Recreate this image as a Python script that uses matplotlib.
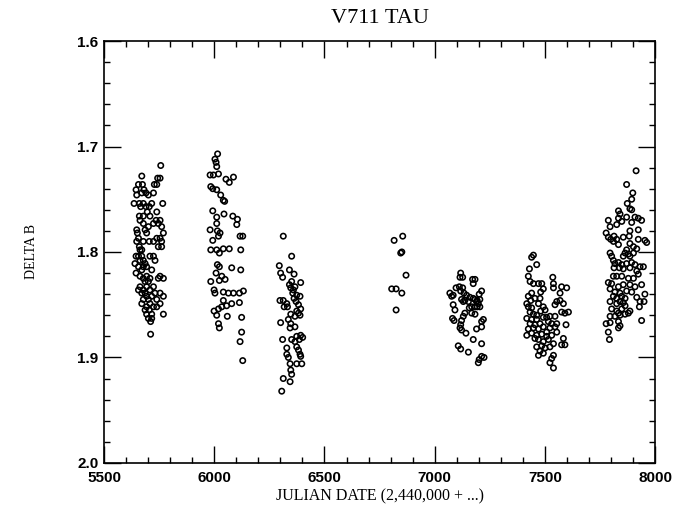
import matplotlib
matplotlib.use("Agg")
import matplotlib.pyplot as plt
from matplotlib.ticker import MultipleLocator

# V711 Tau differential B photometry, one pair of lists per observing season
jd_1 = [5757, 5671, 5743, 5754, 5656, 5674, 5728, 5739, 5645, 5681,
        5671, 5690, 5724, 5648, 5701, 5636, 5660, 5678, 5716, 5766,
        5666, 5690, 5705, 5696, 5739, 5660, 5678, 5708, 5663, 5736,
        5754, 5678, 5724, 5746, 5701, 5761, 5648, 5686, 5651, 5693,
        5769, 5656, 5739, 5754, 5648, 5678, 5705, 5724, 5761, 5660,
        5746, 5761, 5663, 5671, 5645, 5656, 5671, 5708, 5724, 5663,
        5678, 5731, 5640, 5686, 5656, 5678, 5693, 5671, 5716, 5645,
        5663, 5693, 5754, 5678, 5708, 5746, 5769, 5686, 5701, 5663,
        5693, 5724, 5656, 5678, 5708, 5671, 5686, 5731, 5754, 5693,
        5716, 5769, 5678, 5701, 5739, 5671, 5708, 5754, 5693, 5724,
        5739, 5686, 5705, 5693, 5716, 5769, 5701, 5716, 5711, 5711]
db_1 = [1.718, 1.728, 1.730, 1.730, 1.736, 1.736, 1.736, 1.736, 1.741, 1.741,
        1.744, 1.744, 1.744, 1.746, 1.746, 1.754, 1.754, 1.754, 1.754, 1.754,
        1.757, 1.757, 1.757, 1.762, 1.762, 1.766, 1.766, 1.766, 1.770, 1.770,
        1.770, 1.773, 1.773, 1.773, 1.776, 1.776, 1.779, 1.779, 1.782, 1.782,
        1.782, 1.787, 1.787, 1.787, 1.790, 1.790, 1.790, 1.790, 1.790, 1.795,
        1.795, 1.795, 1.798, 1.798, 1.804, 1.804, 1.804, 1.804, 1.804, 1.808,
        1.808, 1.808, 1.811, 1.811, 1.814, 1.814, 1.814, 1.817, 1.817, 1.820,
        1.823, 1.823, 1.823, 1.825, 1.825, 1.825, 1.825, 1.828, 1.828, 1.833,
        1.833, 1.833, 1.836, 1.836, 1.836, 1.839, 1.839, 1.839, 1.839, 1.842,
        1.842, 1.842, 1.845, 1.845, 1.845, 1.849, 1.849, 1.849, 1.852, 1.852,
        1.852, 1.855, 1.855, 1.859, 1.859, 1.859, 1.863, 1.863, 1.866, 1.878]

jd_2 = [6015, 6003, 6008, 6011, 5981, 5996, 6019, 6053, 6068, 6087,
        5984, 5993, 6011, 6029, 6041, 6047, 5993, 6044, 6084, 6105,
        6011, 6011, 6102, 5981, 6014, 6026, 6117, 6129, 5993, 6019,
        5984, 6011, 6023, 6041, 6068, 6120, 6014, 6023, 6079, 6120,
        6008, 6034, 5984, 6023, 6049, 5999, 6003, 6041, 6064, 6087,
        6132, 6114, 6041, 6114, 5999, 6019, 6034, 6056, 6079, 6011,
        6059, 6124, 6019, 6023, 6124, 6117, 6129]
db_2 = [1.707, 1.712, 1.715, 1.719, 1.727, 1.727, 1.726, 1.731, 1.734, 1.729,
        1.738, 1.740, 1.741, 1.746, 1.751, 1.752, 1.761, 1.764, 1.766, 1.769,
        1.767, 1.773, 1.774, 1.779, 1.780, 1.782, 1.785, 1.785, 1.789, 1.785,
        1.798, 1.798, 1.801, 1.797, 1.797, 1.798, 1.812, 1.814, 1.815, 1.817,
        1.820, 1.823, 1.828, 1.827, 1.826, 1.836, 1.839, 1.838, 1.839, 1.839,
        1.837, 1.839, 1.846, 1.848, 1.856, 1.854, 1.852, 1.851, 1.849, 1.860,
        1.861, 1.862, 1.868, 1.872, 1.876, 1.885, 1.903]

jd_3 = [6313, 6351, 6295, 6341, 6362, 6301, 6310, 6392, 6351, 6341,
        6347, 6359, 6366, 6356, 6374, 6389, 6362, 6298, 6313, 6329,
        6371, 6382, 6317, 6332, 6392, 6374, 6382, 6347, 6389, 6366,
        6301, 6336, 6347, 6344, 6366, 6374, 6392, 6401, 6386, 6310,
        6351, 6366, 6329, 6374, 6382, 6329, 6389, 6336, 6392, 6344,
        6374, 6397, 6347, 6351, 6313, 6344, 6306]
db_3 = [1.785, 1.804, 1.813, 1.817, 1.821, 1.820, 1.824, 1.829, 1.828, 1.831,
        1.834, 1.836, 1.833, 1.839, 1.841, 1.842, 1.844, 1.846, 1.846, 1.849,
        1.847, 1.850, 1.852, 1.852, 1.854, 1.856, 1.858, 1.859, 1.860, 1.861,
        1.867, 1.864, 1.868, 1.872, 1.871, 1.880, 1.879, 1.881, 1.883, 1.883,
        1.883, 1.885, 1.891, 1.890, 1.893, 1.897, 1.897, 1.900, 1.899, 1.906,
        1.906, 1.906, 1.912, 1.916, 1.920, 1.923, 1.932]

jd_4 = [6816, 6855, 6851, 6846, 6870, 6805, 6825, 6851, 6825]
db_4 = [1.789, 1.785, 1.800, 1.801, 1.822, 1.835, 1.835, 1.839, 1.855]

jd_5 = [7118, 7115, 7127, 7172, 7183, 7175, 7097, 7112, 7127, 7118,
        7133, 7213, 7202, 7069, 7084, 7077, 7145, 7160, 7175, 7183,
        7193, 7205, 7122, 7130, 7137, 7153, 7190, 7198, 7084, 7092,
        7168, 7183, 7193, 7205, 7157, 7137, 7168, 7183, 7130, 7081,
        7088, 7122, 7221, 7213, 7118, 7115, 7122, 7190, 7213, 7142,
        7175, 7213, 7107, 7118, 7153, 7213, 7202, 7224, 7198]
db_5 = [1.820, 1.824, 1.824, 1.826, 1.826, 1.830, 1.834, 1.833, 1.834, 1.837,
        1.839, 1.837, 1.840, 1.839, 1.841, 1.842, 1.841, 1.843, 1.844, 1.845,
        1.846, 1.845, 1.845, 1.847, 1.846, 1.847, 1.847, 1.849, 1.850, 1.855,
        1.852, 1.852, 1.852, 1.852, 1.853, 1.858, 1.858, 1.859, 1.861, 1.863,
        1.865, 1.865, 1.864, 1.866, 1.869, 1.872, 1.874, 1.873, 1.871, 1.877,
        1.883, 1.887, 1.889, 1.892, 1.895, 1.899, 1.902, 1.900, 1.905]

jd_6 = [7448, 7440, 7463, 7430, 7425, 7536, 7433, 7448, 7471, 7486,
        7493, 7481, 7539, 7539, 7576, 7599, 7569, 7440, 7425, 7436,
        7455, 7478, 7471, 7554, 7569, 7584, 7546, 7418, 7425, 7440,
        7493, 7501, 7481, 7433, 7448, 7463, 7576, 7591, 7607, 7418,
        7440, 7463, 7493, 7508, 7523, 7546, 7433, 7455, 7478, 7516,
        7531, 7554, 7596, 7425, 7448, 7471, 7493, 7523, 7546, 7508,
        7418, 7440, 7463, 7486, 7508, 7531, 7554, 7455, 7471, 7493,
        7516, 7539, 7584, 7463, 7486, 7501, 7523, 7576, 7591, 7478,
        7493, 7471, 7539, 7531, 7523, 7539]
db_6 = [1.803, 1.805, 1.812, 1.816, 1.823, 1.824, 1.828, 1.830, 1.830, 1.830,
        1.835, 1.838, 1.830, 1.834, 1.833, 1.834, 1.839, 1.839, 1.842, 1.846,
        1.844, 1.844, 1.849, 1.847, 1.846, 1.849, 1.850, 1.849, 1.852, 1.853,
        1.852, 1.855, 1.856, 1.857, 1.859, 1.860, 1.857, 1.858, 1.857, 1.863,
        1.864, 1.864, 1.862, 1.862, 1.861, 1.861, 1.868, 1.869, 1.868, 1.866,
        1.868, 1.868, 1.869, 1.873, 1.872, 1.873, 1.871, 1.872, 1.871, 1.876,
        1.879, 1.877, 1.879, 1.878, 1.880, 1.879, 1.876, 1.882, 1.883, 1.885,
        1.883, 1.887, 1.882, 1.890, 1.889, 1.891, 1.890, 1.888, 1.888, 1.894,
        1.896, 1.898, 1.898, 1.901, 1.905, 1.910]

jd_7 = [7914, 7871, 7899, 7894, 7874, 7886, 7894, 7834, 7841, 7788,
        7834, 7871, 7909, 7924, 7939, 7796, 7826, 7849, 7894, 7924,
        7886, 7778, 7788, 7814, 7799, 7826, 7856, 7883, 7924, 7954,
        7962, 7811, 7834, 7886, 7902, 7871, 7917, 7796, 7803, 7864,
        7879, 7902, 7856, 7886, 7811, 7818, 7834, 7849, 7871, 7894,
        7909, 7932, 7947, 7814, 7838, 7856, 7886, 7917, 7924, 7811,
        7826, 7849, 7879, 7902, 7788, 7803, 7834, 7856, 7886, 7909,
        7939, 7796, 7818, 7841, 7871, 7894, 7811, 7826, 7849, 7864,
        7917, 7954, 7796, 7826, 7841, 7856, 7864, 7932, 7950, 7929,
        7803, 7826, 7849, 7834, 7864, 7886, 7796, 7818, 7841, 7879,
        7939, 7778, 7796, 7834, 7841, 7834, 7788, 7793]
db_7 = [1.723, 1.736, 1.744, 1.750, 1.754, 1.759, 1.760, 1.761, 1.764, 1.770,
        1.768, 1.767, 1.767, 1.768, 1.770, 1.776, 1.774, 1.771, 1.772, 1.779,
        1.780, 1.782, 1.786, 1.785, 1.788, 1.788, 1.786, 1.785, 1.788, 1.789,
        1.791, 1.790, 1.793, 1.792, 1.795, 1.798, 1.797, 1.801, 1.804, 1.801,
        1.802, 1.801, 1.804, 1.804, 1.808, 1.811, 1.810, 1.812, 1.811, 1.810,
        1.812, 1.814, 1.814, 1.815, 1.815, 1.816, 1.815, 1.818, 1.821, 1.823,
        1.823, 1.823, 1.825, 1.825, 1.829, 1.830, 1.833, 1.831, 1.831, 1.833,
        1.831, 1.835, 1.838, 1.839, 1.837, 1.838, 1.842, 1.844, 1.842, 1.844,
        1.843, 1.840, 1.847, 1.849, 1.847, 1.848, 1.851, 1.847, 1.847, 1.852,
        1.854, 1.856, 1.854, 1.858, 1.859, 1.856, 1.861, 1.861, 1.860, 1.858,
        1.865, 1.868, 1.867, 1.866, 1.870, 1.872, 1.876, 1.883]

seasons = [(jd_1, db_1), (jd_2, db_2), (jd_3, db_3), (jd_4, db_4),
           (jd_5, db_5), (jd_6, db_6), (jd_7, db_7)]

fig = plt.figure(figsize=(6.76, 5.07), dpi=100)
ax = fig.add_axes([0.154, 0.087, 0.815, 0.832])

for jd, db in seasons:
    ax.scatter(jd, db, s=15, facecolors="none", edgecolors="black",
               linewidths=1.15, zorder=3)

ax.set_xlim(5500, 8000)
ax.set_ylim(2.0, 1.6)  # brighter at the top

ax.xaxis.set_major_locator(MultipleLocator(500))
ax.xaxis.set_minor_locator(MultipleLocator(100))
ax.yaxis.set_major_locator(MultipleLocator(0.1))
ax.yaxis.set_minor_locator(MultipleLocator(0.02))
ax.yaxis.set_major_formatter(plt.FormatStrFormatter("%.1f"))

ax.tick_params(which="both", direction="in", top=True, right=True, width=1.0)
ax.tick_params(which="major", length=12)
ax.tick_params(which="minor", length=4)
ax.tick_params(axis="x", which="major", pad=6)
ax.tick_params(axis="y", which="major", pad=4)
for lab in ax.get_xticklabels() + ax.get_yticklabels():
    lab.set_fontfamily("Liberation Sans")
    lab.set_fontweight("bold")
    lab.set_fontsize(11)

for sp in ax.spines.values():
    sp.set_linewidth(1.2)

ax.set_title("V711 TAU", family="Liberation Serif", fontsize=16, pad=13)
ax.set_xlabel("JULIAN DATE (2,440,000 + ...)", family="Liberation Serif",
              fontsize=11.5, labelpad=2)
ax.set_ylabel("DELTA B", family="Liberation Serif", fontsize=10, labelpad=28)

fig.savefig("out.png", dpi=100)
